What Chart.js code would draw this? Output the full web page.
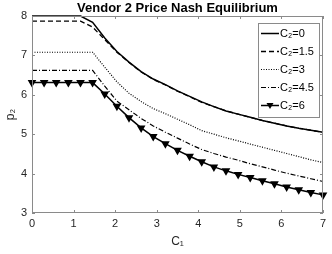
<!DOCTYPE html>
<html lang="en">
<head>
    <meta charset="UTF-8">
    <title>Vendor 2 Price Nash Equilibrium</title>
    <script src="https://cdn.jsdelivr.net/npm/chart.js@4.4.1/dist/chart.umd.min.js"></script>
    <style>
        body { margin: 0; background: #fff; }
    </style>
</head>
<body>
<canvas id="chart" width="332" height="254"></canvas>
<script>
    // C1 values (x axis)
    const c1 = [0, 0.292, 0.583, 0.875, 1.167, 1.458, 1.75, 2.042, 2.333, 2.625, 2.917, 3.208,
        3.5, 3.792, 4.083, 4.375, 4.667, 4.958, 5.25, 5.542, 5.833, 6.125, 6.417, 6.708, 7];
    // p2 for each C2
    const p2C0 = [8, 8, 8, 8, 8, 7.84, 7.44, 7.10, 6.83, 6.59, 6.40, 6.26,
        6.10, 5.96, 5.82, 5.70, 5.59, 5.51, 5.43, 5.35, 5.28, 5.21, 5.15, 5.10, 5.05];
    const p2C15 = [7.87, 7.87, 7.87, 7.87, 7.87, 7.72, 7.40, 7.08, 6.82, 6.58, 6.39, 6.25,
        6.09, 5.95, 5.81, 5.70, 5.59, 5.51, 5.43, 5.35, 5.28, 5.21, 5.15, 5.10, 5.05];
    const p2C3 = [7.08, 7.08, 7.08, 7.08, 7.08, 7.08, 6.70, 6.33, 6.04, 5.83, 5.65, 5.52,
        5.38, 5.24, 5.09, 5.00, 4.91, 4.83, 4.75, 4.67, 4.59, 4.51, 4.43, 4.35, 4.28];
    const p2C45 = [6.62, 6.62, 6.62, 6.62, 6.62, 6.62, 6.22, 5.84, 5.62, 5.40, 5.21, 5.05,
        4.90, 4.75, 4.61, 4.51, 4.42, 4.34, 4.25, 4.17, 4.09, 4.01, 3.94, 3.87, 3.80];
    const p2C6 = [6.31, 6.31, 6.31, 6.31, 6.31, 6.31, 6.02, 5.71, 5.42, 5.16, 4.94, 4.76,
        4.59, 4.44, 4.30, 4.17, 4.07, 3.98, 3.90, 3.82, 3.74, 3.66, 3.59, 3.52, 3.46];
    const seriesLabels = ['C₂=0', 'C₂=1.5', 'C₂=3', 'C₂=4.5', 'C₂=6'];
    const xTicks = [0, 1, 2, 3, 4, 5, 6, 7];
    const yTicks = [3, 4, 5, 6, 7, 8];

    const font = "'Liberation Sans', Arial, sans-serif";

    function pts(ys) {
        return c1.map((x, i) => ({x: x, y: ys[i]}));
    }

    function line(label, ys, dash, width) {
        return {
            label: label,
            data: pts(ys),
            borderColor: '#000',
            backgroundColor: '#000',
            borderWidth: width,
            borderDash: dash,
            pointRadius: 0,
            tension: 0,
            clip: false
        };
    }

    const datasets = [
        line(seriesLabels[0], p2C0, [], 1.5),
        line(seriesLabels[1], p2C15, [5, 3], 1.3),
        line(seriesLabels[2], p2C3, [1, 1.5], 1.2),
        line(seriesLabels[3], p2C45, [5, 2, 1, 2], 1.2),
        line(seriesLabels[4], p2C6, [], 1.5)
    ];
    datasets[4].pointStyle = 'triangle';
    datasets[4].rotation = 180;
    datasets[4].pointRadius = 3.5;

    // box, inward ticks and legend drawn the MATLAB way
    const boxPlugin = {
        id: 'box',
        afterDraw(chart) {
            const c = chart.ctx;
            const a = chart.chartArea;
            const xs = chart.scales.x, ys = chart.scales.y;
            c.save();
            c.strokeStyle = '#8a8a8a';
            c.lineWidth = 1;
            c.setLineDash([]);
            c.strokeRect(Math.round(a.left) + 0.5, Math.round(a.top) + 0.5,
                Math.round(a.right - a.left) - 1, Math.round(a.bottom - a.top) - 1);
            c.beginPath();
            xTicks.forEach(v => {
                const px = Math.round(xs.getPixelForValue(v)) + 0.5;
                c.moveTo(px, a.bottom); c.lineTo(px, a.bottom - 3);
                c.moveTo(px, a.top); c.lineTo(px, a.top + 3);
            });
            yTicks.forEach(v => {
                const py = Math.round(ys.getPixelForValue(v)) + 0.5;
                c.moveTo(a.left, py); c.lineTo(a.left + 3, py);
                c.moveTo(a.right, py); c.lineTo(a.right - 3, py);
            });
            c.stroke();

            // legend
            const lx = 258, ly = 23, lw = 61, lh = 94;
            c.fillStyle = '#fff';
            c.fillRect(lx, ly, lw, lh);
            c.strokeRect(lx + 0.5, ly + 0.5, lw, lh);
            chart.data.datasets.forEach((ds, i) => {
                const y = ly + 10.5 + i * 18;
                c.strokeStyle = '#000';
                c.lineWidth = ds.borderWidth;
                c.setLineDash(ds.borderDash);
                c.beginPath();
                c.moveTo(lx + 3, y);
                c.lineTo(lx + 21, y);
                c.stroke();
                if (ds.pointRadius > 0) {
                    c.setLineDash([]);
                    c.fillStyle = '#000';
                    c.beginPath();
                    c.moveTo(lx + 12 - 3.5, y - 2.5);
                    c.lineTo(lx + 12 + 3.5, y - 2.5);
                    c.lineTo(lx + 12, y + 3.5);
                    c.closePath();
                    c.fill();
                }
                c.fillStyle = '#000';
                c.font = '11px ' + font;
                c.textBaseline = 'middle';
                c.textAlign = 'left';
                c.fillText(ds.label, lx + 22, y);
            });
            c.restore();
        }
    };

    const ctx = document.getElementById('chart').getContext('2d');
    new Chart(ctx, {
        type: 'line',
        data: {datasets: datasets},
        options: {
            responsive: false,
            animation: false,
            devicePixelRatio: 1,
            layout: {padding: {left: 0, right: 9, top: 0, bottom: 0}},
            plugins: {
                legend: {display: false},
                tooltip: {enabled: false},
                title: {
                    display: true,
                    fullSize: false,
                    text: 'Vendor 2 Price Nash Equilibrium',
                    color: '#000',
                    font: {family: font, size: 13, weight: 'bold', lineHeight: 1.23},
                    padding: {top: 0, bottom: 0}
                }
            },
            scales: {
                x: {
                    type: 'linear',
                    min: 0,
                    max: 7,
                    afterFit: s => { s.height = 41; },
                    afterBuildTicks: s => { s.ticks = xTicks.map(v => ({value: v})); },
                    grid: {display: false, drawTicks: false},
                    border: {display: false},
                    ticks: {color: '#262626', font: {family: font, size: 11}, padding: 4, maxRotation: 0},
                    title: {display: true, text: 'C₁', color: '#262626',
                        font: {family: font, size: 12}, padding: {top: 0, bottom: 5}}
                },
                y: {
                    min: 3,
                    max: 8,
                    afterFit: s => { s.width = 32; },
                    afterBuildTicks: s => { s.ticks = yTicks.map(v => ({value: v})); },
                    grid: {display: false, drawTicks: false},
                    border: {display: false},
                    ticks: {color: '#262626', font: {family: font, size: 11}, padding: 5},
                    title: {display: true, text: 'p₂', color: '#262626',
                        font: {family: font, size: 12}, padding: {top: 3, bottom: 0}}
                }
            }
        },
        plugins: [boxPlugin]
    });
</script>
</body>
</html>
